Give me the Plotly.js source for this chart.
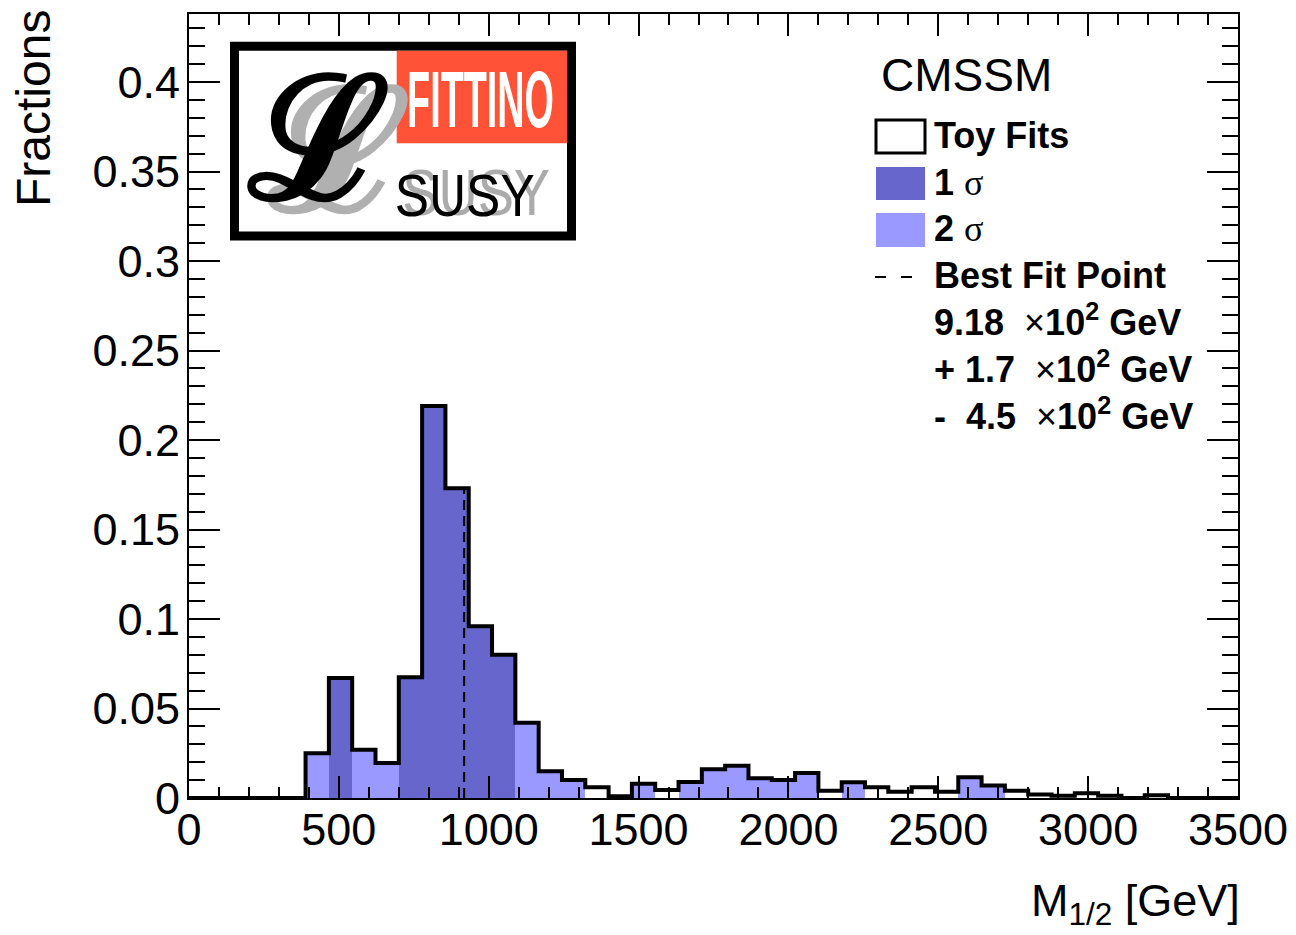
<!DOCTYPE html>
<html><head><meta charset="utf-8">
<script src="https://cdn.plot.ly/plotly-3.0.1.min.js"></script>
<style>html,body{margin:0;padding:0;background:#fff}#chart{width:1296px;height:935px}</style>
</head><body><div id="chart"></div>
<script>
// ---- data ----
const xMin = 0, xMax = 3500, nBins = 45;
const fractions = [0, 0, 0, 0, 0,
  0.025, 0.067, 0.027, 0.0195, 0.0675,
  0.219, 0.173, 0.096, 0.080, 0.042,
  0.015, 0.010, 0.006, 0.001, 0.008,
  0.0045, 0.009, 0.016, 0.018, 0.011,
  0.010, 0.014, 0.004, 0.0088, 0.006,
  0.0035, 0.006, 0.0035, 0.0116, 0.007,
  0.004, 0.002, 0.0013, 0.0026, 0.0013,
  0, 0.0015, 0, 0, 0];
// 1 = inside 1 sigma, 2 = inside 2 sigma, 0 = outside
const sigmaBand = [0, 0, 0, 0, 0,
  2, 1, 2, 2, 1,
  1, 1, 1, 1, 2,
  2, 2, 0, 0, 2,
  0, 2, 2, 2, 2,
  2, 2, 0, 2, 0,
  0, 0, 0, 2, 2,
  0, 0, 0, 0, 0,
  0, 0, 0, 0, 0];
const bestFit = 918;
const modelName = 'CMSSM';
const legendLabels = ['Toy Fits', '1', '2', 'Best Fit Point'];
const fitValues = ['9.18', '+ 1.7', '-\u00A0 4.5'];
const xTitle = 'M<sub>1/2</sub> [GeV]';
const yTitle = 'Fractions';

// ---- styling ----
const C1 = '#6666CC', C2 = '#9999FF';
const FONT = 'Liberation Sans, Arial, Helvetica, sans-serif';
const L = 189, R = 1238, T = 14, B = 798;
const px = x => (x - L) / (R - L);
const py = y => (B - y) / (B - T);

const bw = (xMax - xMin) / nBins;
const edges = Array.from({length: nBins + 1}, (_, i) => xMin + i * bw);
const centers = edges.slice(0, nBins).map(e => e + bw / 2);

const band1 = fractions.map((v, i) => sigmaBand[i] === 1 ? v : 0);
const band2 = fractions.map((v, i) => sigmaBand[i] === 2 ? v : 0);
const bfBin = Math.floor((bestFit - xMin) / bw);

const data = [
  {type: 'bar', x: centers, y: band2, width: bw, marker: {color: C2, line: {width: 0}}, hoverinfo: 'skip'},
  {type: 'bar', x: centers, y: band1, width: bw, marker: {color: C1, line: {width: 0}}, hoverinfo: 'skip'},
  {type: 'scatter', mode: 'lines', x: [bestFit, bestFit], y: [0, fractions[bfBin]],
   line: {color: 'black', width: 2, dash: '10px,6px'}, hoverinfo: 'skip'},
  {type: 'scatter', mode: 'lines', x: edges, y: fractions.concat([fractions[nBins - 1]]),
   line: {color: 'black', width: 4, shape: 'hv'}, hoverinfo: 'skip'}
];

const shapes = [
  // logo frame
  {type: 'rect', xref: 'paper', yref: 'paper', x0: px(234.5), x1: px(571.5), y0: py(236), y1: py(46.3),
   line: {color: 'black', width: 9}, fillcolor: 'white', layer: 'above'},
  {type: 'rect', xref: 'paper', yref: 'paper', x0: px(396.7), x1: px(567.3), y0: py(143.3), y1: py(50.7),
   line: {width: 0}, fillcolor: '#FF5236', layer: 'above'},
  // legend symbols
  {type: 'rect', xref: 'paper', yref: 'paper', x0: px(876), x1: px(925), y0: py(153), y1: py(120),
   line: {color: 'black', width: 3}, fillcolor: 'white'},
  {type: 'rect', xref: 'paper', yref: 'paper', x0: px(876), x1: px(925), y0: py(200), y1: py(167),
   line: {width: 0}, fillcolor: C1},
  {type: 'rect', xref: 'paper', yref: 'paper', x0: px(876), x1: px(925), y0: py(247), y1: py(213),
   line: {width: 0}, fillcolor: C2},
  {type: 'line', xref: 'paper', yref: 'paper', x0: px(875), x1: px(914), y0: py(277), y1: py(277),
   line: {color: 'black', width: 2, dash: '11px,15px'}}
];

const squeeze = {};
const annotations = [];
function addAnn(a, target) {
  if (target) squeeze[annotations.length] = target;
  annotations.push(Object.assign({xref: 'paper', yref: 'paper', showarrow: false}, a));
}
const sig = '<span style="font-family:Liberation Serif,Times New Roman,serif;font-weight:normal">\u03C3</span>';
const times = '<span style="font-weight:normal">\u00D7</span>';
// logo texts
addAnn({text: '\u2112', x: px(338), y: py(150), xanchor: 'center', yanchor: 'middle',
        font: {family: 'DejaVu Serif, serif', size: 170, color: '#B0B0B0', weight: 'bold'}});
addAnn({text: '\u2112', x: px(318), y: py(138), xanchor: 'center', yanchor: 'middle',
        font: {family: 'DejaVu Serif, serif', size: 170, color: 'black', weight: 'bold'}});
addAnn({text: 'FITTINO', x: px(480.5), y: py(99), xanchor: 'center', yanchor: 'middle',
        font: {family: 'Liberation Sans Narrow, ' + FONT, size: 80, color: 'white', weight: 'bold'}}, 147);
addAnn({text: 'SUSY', x: px(476), y: py(193), xanchor: 'center', yanchor: 'middle',
        font: {family: FONT, size: 64, color: '#ABABAB'}}, 148);
addAnn({text: 'SUSY', x: px(464), y: py(196), xanchor: 'center', yanchor: 'middle',
        font: {family: FONT, size: 60, color: 'black'}}, 140);
// legend
addAnn({text: modelName, x: px(879), y: py(75), xanchor: 'left', yanchor: 'middle',
        font: {family: FONT, size: 46, color: 'black'}});
const lg = {family: FONT, size: 36, color: 'black', weight: 'bold'};
addAnn({text: legendLabels[0], x: px(932), y: py(135), xanchor: 'left', yanchor: 'middle', font: lg});
addAnn({text: legendLabels[1] + ' ' + sig, x: px(932), y: py(182), xanchor: 'left', yanchor: 'middle', font: lg});
addAnn({text: legendLabels[2] + ' ' + sig, x: px(932), y: py(228), xanchor: 'left', yanchor: 'middle', font: lg});
addAnn({text: legendLabels[3], x: px(932), y: py(275), xanchor: 'left', yanchor: 'middle', font: lg});
fitValues.forEach((v, i) => {
  addAnn({text: v + '\u00A0 ' + times + '10<sup>2</sup> GeV', x: px(932), y: py(320 + i * 47),
          xanchor: 'left', yanchor: 'middle', font: lg});
});
// axis titles
addAnn({text: xTitle, x: px(1242), y: py(903), xanchor: 'right', yanchor: 'middle',
        font: {family: FONT, size: 45, color: 'black'}});
addAnn({text: yTitle, x: px(5), y: py(8), xanchor: 'left', yanchor: 'top', textangle: -90,
        font: {family: FONT, size: 48, color: 'black'}});

const axCommon = {
  showgrid: false, zeroline: false, showline: true, linecolor: 'black', linewidth: 2,
  mirror: 'allticks', ticks: 'inside', tickcolor: 'black', tickwidth: 2,
  tickfont: {family: FONT, size: 45, color: 'black'}, exponentformat: 'none'
};
const layout = {
  width: 1296, height: 935,
  margin: {l: L, r: 1296 - R, t: T, b: 935 - B, pad: 0},
  paper_bgcolor: 'white', plot_bgcolor: 'white',
  showlegend: false, barmode: 'overlay', bargap: 0,
  xaxis: Object.assign({}, axCommon, {range: [xMin, xMax], dtick: 500, tick0: 0, ticklen: 22,
    ticklabelstandoff: -9,
    minor: {dtick: 100, ticks: 'inside', ticklen: 11, tickwidth: 2, tickcolor: 'black', showgrid: false}}),
  yaxis: Object.assign({}, axCommon, {range: [0, 0.438], dtick: 0.05, tick0: 0, ticklen: 31,
    ticklabelstandoff: -2,
    minor: {dtick: 0.01, ticks: 'inside', ticklen: 16, tickwidth: 2, tickcolor: 'black', showgrid: false}}),
  shapes: shapes,
  annotations: annotations
};

Plotly.newPlot('chart', data, layout, {staticPlot: true}).then(gd => {
  gd.querySelectorAll('.annotation').forEach(a => {
    const idx = +a.getAttribute('data-index');
    const target = squeeze[idx];
    if (!target) return;
    const t = a.querySelector('text.annotation-text');
    if (!t) return;
    const bb = t.getBBox();
    const s = target / bb.width;
    const cx = bb.x + bb.width / 2;
    t.setAttribute('transform', `translate(${cx},0) scale(${s},1) translate(${-cx},0)`);
  });
});
</script>
</body></html>
